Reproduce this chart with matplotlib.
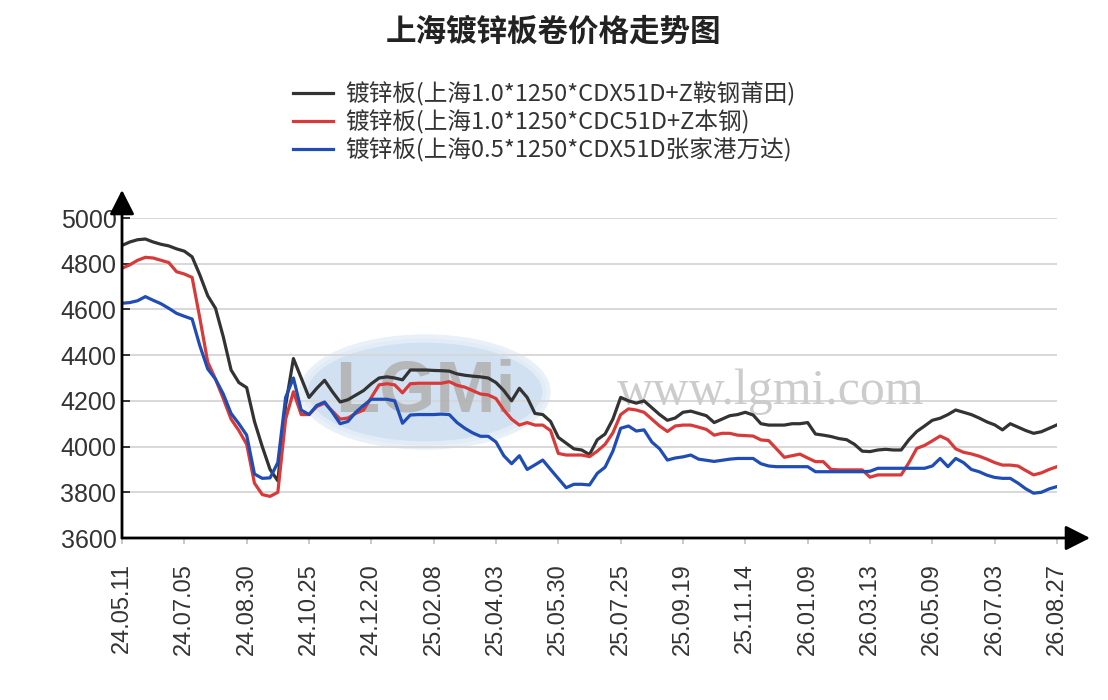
import matplotlib
matplotlib.use("Agg")
import matplotlib.pyplot as plt
from matplotlib.patches import Ellipse

# tick labels (one every 8 data points)
dates = [
    "24.05.11", "24.07.05", "24.08.30", "24.10.25", "24.12.20", "25.02.08",
    "25.04.03", "25.05.30", "25.07.25", "25.09.19", "25.11.14", "26.01.09",
    "26.03.13", "26.05.09", "26.07.03", "26.08.27",
]

names = [
    "镀锌板(上海1.0*1250*CDX51D+Z鞍钢莆田)",
    "镀锌板(上海1.0*1250*CDC51D+Z本钢)",
    "镀锌板(上海0.5*1250*CDX51D张家港万达)",
]

ansteel = [
    4880, 4895, 4905, 4908, 4895, 4885, 4878, 4865, 4855, 4830,
    4750, 4660, 4605, 4480, 4335, 4280, 4258, 4110, 4000, 3900,
    3850, 4180, 4385, 4300, 4215, 4255, 4290, 4240, 4195, 4205,
    4225, 4245, 4275, 4300, 4305, 4300, 4292, 4335, 4335, 4335,
    4333, 4332, 4330, 4318, 4312, 4308, 4305, 4300, 4280, 4245,
    4200, 4255, 4215, 4145, 4140, 4110, 4040, 4015, 3990, 3985,
    3965, 4030, 4055, 4120, 4215, 4200, 4190, 4200, 4170, 4140,
    4115, 4125, 4150, 4155, 4145, 4135, 4105, 4120, 4135, 4140,
    4150, 4138, 4100, 4094, 4094, 4094, 4100, 4100, 4105, 4055,
    4050, 4044, 4035, 4030, 4010, 3980, 3978, 3985, 3988, 3985,
    3985, 4030, 4066, 4090, 4115, 4124, 4140, 4160, 4150, 4140,
    4125, 4108, 4095, 4073, 4100, 4085, 4070, 4058, 4065, 4080,
    4095,
]

benxi = [
    4780, 4795, 4815, 4828, 4825, 4815, 4805, 4765, 4755, 4740,
    4560, 4370, 4295, 4210, 4120, 4070, 4010, 3840, 3790, 3782,
    3800, 4120, 4240, 4140, 4140, 4175, 4190, 4155, 4120, 4125,
    4145, 4160, 4215, 4270, 4275, 4270, 4235, 4275, 4277, 4277,
    4277, 4277, 4284, 4268, 4260, 4245, 4230, 4226, 4210, 4160,
    4120, 4094, 4105, 4094, 4094, 4070, 3970, 3963, 3963, 3963,
    3956, 3980, 4010, 4060, 4140, 4165, 4160, 4150, 4120, 4090,
    4066, 4090, 4094, 4094, 4085, 4075, 4050, 4058, 4058, 4050,
    4048, 4046, 4029, 4026, 3990, 3953, 3960, 3967, 3950, 3934,
    3934, 3900, 3898, 3898, 3898, 3898, 3866, 3876, 3876, 3876,
    3876, 3930, 3992, 4005, 4025, 4046, 4030, 3990, 3975, 3968,
    3958, 3945, 3930, 3919, 3919, 3915, 3895, 3876, 3885, 3900,
    3912,
]

wanda = [
    4627, 4630, 4638, 4656, 4640, 4625, 4605, 4583, 4570, 4558,
    4440, 4340, 4295, 4230, 4145, 4100, 4050, 3880, 3861, 3863,
    3930, 4215, 4300, 4160, 4140, 4180, 4195, 4150, 4100, 4110,
    4150, 4180, 4207, 4207, 4207, 4200, 4102, 4138, 4140, 4140,
    4140, 4142, 4140, 4105, 4080, 4060, 4045, 4045, 4020, 3960,
    3925, 3960, 3900, 3920, 3941, 3900, 3860, 3820, 3835, 3835,
    3832, 3883, 3910, 3980, 4080, 4090, 4068, 4073, 4020, 3990,
    3941, 3950, 3955, 3963, 3945, 3940, 3935, 3940, 3945, 3948,
    3948, 3948, 3925, 3915, 3912, 3912, 3912, 3912, 3912, 3890,
    3890, 3890, 3890, 3890, 3890, 3890, 3892, 3905, 3905, 3905,
    3905, 3905, 3905, 3905, 3915, 3948, 3912, 3948, 3930, 3900,
    3890, 3875, 3865, 3861, 3861, 3840, 3815, 3796, 3800, 3815,
    3825,
]

colors = ["#333333", "#d83a3a", "#1f4db5"]
TXT = "#333333"
CJK = ["Noto Sans CJK SC", "DejaVu Sans"]

W, H = 1108, 700
fig = plt.figure(figsize=(W / 100, H / 100), dpi=100)
ax = fig.add_axes([122 / W, (H - 538) / H, 935 / W, 320 / H])
ax.set_facecolor("none")

# watermark
ax.add_patch(Ellipse((425 / W, 1 - 392 / H), 243 / W, 107 / H,
                     transform=fig.transFigure, facecolor="#c9dcef",
                     edgecolor="#e6eef7", lw=6, alpha=0.85, zorder=0.5))
ax.text(425 / W, 1 - 392 / H, "LGMi", transform=fig.transFigure,
        ha="center", va="center", fontsize=52, fontweight="bold",
        family="Liberation Sans", color="#b0b0b0", alpha=0.85, zorder=0.6)
ax.text(771 / W, 1 - 392 / H, "www.lgmi.com", transform=fig.transFigure,
        ha="center", va="center", fontsize=36, family="Liberation Serif",
        color="#cccccc", zorder=0.6)

x = list(range(len(ansteel)))
for series, c, name in zip([ansteel, benxi, wanda], colors, names):
    ax.plot(x, series, color=c, lw=2.3, label=name, zorder=3,
            solid_joinstyle="round")

ax.set_xlim(0, 120)
ax.set_ylim(3600, 5000)
ax.set_yticks(range(3600, 5001, 200))
ax.set_xticks(range(0, 121, 8))
ax.set_xticklabels(dates, rotation=90, family="Liberation Sans",
                   fontsize=17, color=TXT)
for lab in ax.get_yticklabels():
    lab.set_family("Liberation Sans")
    lab.set_fontsize(18)
    lab.set_color(TXT)
ax.yaxis.grid(True, color="#d6d6d6", lw=1.3)
ax.set_axisbelow(True)
ax.tick_params(axis="y", direction="in", length=6, width=1.4,
               color="#333333", pad=4)
ax.tick_params(axis="x", direction="out", length=4, width=1.2,
               color="#c0c0c0", pad=14)
for s in ["top", "right", "bottom", "left"]:
    ax.spines[s].set_visible(False)

# axis arrows
arrow = dict(arrowstyle="-|>,head_length=0.75,head_width=0.38",
             mutation_scale=20, lw=2, color="black", shrinkA=0, shrinkB=0)
ax.annotate("", xy=(1090 / W, (H - 538) / H), xytext=(122 / W, (H - 538) / H),
            xycoords="figure fraction", textcoords="figure fraction",
            arrowprops=arrow, annotation_clip=False)
ax.annotate("", xy=(122 / W, (H - 190) / H), xytext=(122 / W, (H - 538) / H),
            xycoords="figure fraction", textcoords="figure fraction",
            arrowprops=arrow, annotation_clip=False)

fig.text(553 / W, 1 - 32 / H, "上海镀锌板卷价格走势图", ha="center", va="center",
         fontsize=22, fontweight="bold", family=CJK, color="#222222")

leg = fig.legend(loc="upper left", bbox_to_anchor=(293 / W, 1 - 82 / H),
                 frameon=False, handlelength=1.7, handletextpad=0.5,
                 labelspacing=0.15, borderaxespad=0, borderpad=0,
                 prop={"family": CJK, "size": 17})
for t in leg.get_texts():
    t.set_color(TXT)

fig.savefig("out.png", dpi=100)
